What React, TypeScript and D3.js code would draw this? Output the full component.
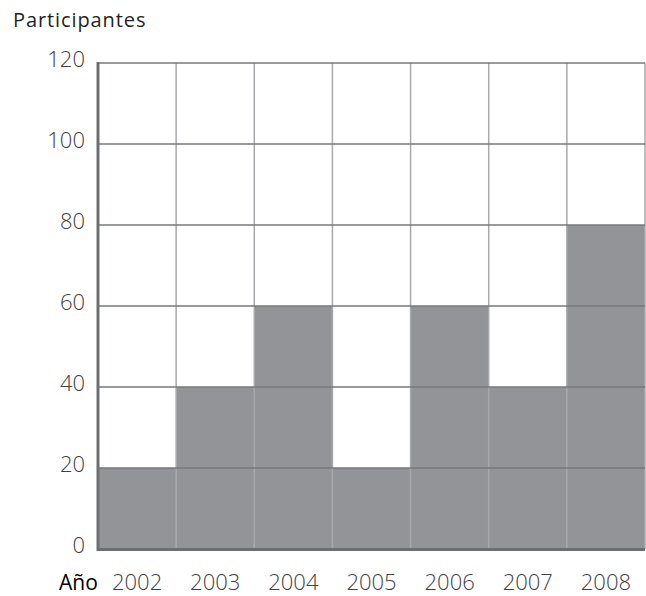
import React from "react";
import * as d3 from "d3";

const years = ["2002", "2003", "2004", "2005", "2006", "2007", "2008"];
const participants = [20, 40, 60, 20, 60, 40, 80];
const yTicks = [0, 20, 40, 60, 80, 100, 120];

const W = 646, H = 596;
const left = 98, right = 645, top = 63, bottom = 549;

export default function App() {
  const x = d3.scaleBand<string>().domain(years).range([left, right]).padding(0);
  const y = d3.scaleLinear().domain([0, 120]).range([bottom, top]);
  const font = "'Open Sans', 'DejaVu Sans', sans-serif";
  return (
    <svg width={W} height={H} style={{ position: "absolute", left: 0, top: 0, background: "#fff" }}>
      {years.map((yr, i) => (
        <rect key={yr} x={x(yr)!} y={y(participants[i])} width={x.bandwidth()} height={bottom - y(participants[i])} fill="#939497" />
      ))}
      {years.map((yr, i) => (
        <line key={"v" + yr} x1={x(yr)! + x.bandwidth()} x2={x(yr)! + x.bandwidth()} y1={top} y2={bottom} stroke="#a7a9ac" strokeWidth={1.5} />
      ))}
      {yTicks.filter(t => t > 0).map(t => (
        <line key={"h" + t} x1={left} x2={right} y1={y(t)} y2={y(t)} stroke="#77787b" strokeWidth={1.5} />
      ))}
      <line x1={left} x2={left} y1={top - 1} y2={bottom + 2} stroke="#6d6e71" strokeWidth={3} />
      <line x1={left} x2={right} y1={bottom + 0.5} y2={bottom + 0.5} stroke="#6d6e71" strokeWidth={3} />
      {yTicks.map(t => (
        <text key={"t" + t} x={85} y={y(t) + 4} textAnchor="end" fontFamily={font} fontWeight={300} fontSize={22} fill="#414042">{t}</text>
      ))}
      {years.map(yr => (
        <text key={"l" + yr} x={x(yr)! + x.bandwidth() / 2} y={590} textAnchor="middle" fontFamily={font} fontWeight={300} fontSize={22} fill="#414042">{yr}</text>
      ))}
      <text x={59} y={590} fontFamily={font} fontWeight={400} fontSize={21} fill="#000">Año</text>
      <text x={13} y={27} fontFamily={font} fontWeight={400} fontSize={20} letterSpacing={0.9} fill="#231f20">Participantes</text>
    </svg>
  );
}
